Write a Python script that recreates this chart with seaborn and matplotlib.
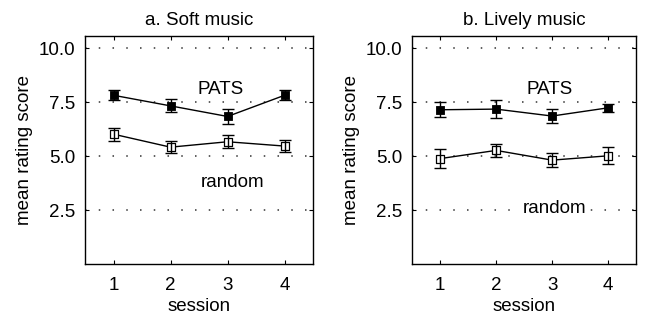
import matplotlib
matplotlib.use("Agg")
import matplotlib.pyplot as plt
import numpy as np
import pandas as pd
import seaborn as sns

sessions = [1, 2, 3, 4]

# a. Soft music
soft_pats = [7.82, 7.33, 6.84, 7.82]
soft_pats_err = [0.23, 0.30, 0.36, 0.23]
soft_random = [6.02, 5.42, 5.67, 5.47]
soft_random_err = [0.30, 0.27, 0.30, 0.27]

# b. Lively music
lively_pats = [7.15, 7.18, 6.86, 7.24]
lively_pats_err = [0.34, 0.42, 0.33, 0.18]
lively_random = [4.89, 5.27, 4.82, 5.02]
lively_random_err = [0.43, 0.30, 0.34, 0.40]

titles = ["a. Soft music", "b. Lively music"]
yticks = [2.5, 5.0, 7.5, 10.0]

sns.set_style("ticks")
plt.rcParams["font.family"] = ["Liberation Sans", "DejaVu Sans"]
plt.rcParams["text.color"] = "black"
plt.rcParams["axes.labelcolor"] = "black"
plt.rcParams["xtick.color"] = "black"
plt.rcParams["ytick.color"] = "black"

fig = plt.figure(figsize=(6.46, 3.2), dpi=100)
ax_a = fig.add_axes([0.1316, 0.174, 0.353, 0.714])
ax_b = fig.add_axes([0.6378, 0.174, 0.347, 0.714])

panels = [
    (ax_a, soft_pats, soft_pats_err, soft_random, soft_random_err,
     (2.87, 8.1), (3.08, 3.77)),
    (ax_b, lively_pats, lively_pats_err, lively_random, lively_random_err,
     (2.95, 8.1), (3.05, 2.6)),
]

for i, (ax, pats, pats_err, rnd, rnd_err, pats_pos, rnd_pos) in enumerate(panels):
    df = pd.DataFrame({
        "session": sessions * 2,
        "score": pats + rnd,
        "group": ["PATS"] * 4 + ["random"] * 4,
    })
    # dotted grid lines first so marks go on top
    for yv in yticks:
        ax.axhline(yv, color="#333333", linestyle=(0, (1, 8)), linewidth=1.1, zorder=0)

    sns.lineplot(data=df, x="session", y="score", units="group", estimator=None,
                 color="black", linewidth=1.0, ax=ax, legend=False, zorder=2)
    sns.scatterplot(x=sessions, y=pats, marker="s", s=36, color="black",
                    edgecolor="black", linewidth=0.6, ax=ax, zorder=4)
    sns.scatterplot(x=sessions, y=rnd, marker="s", s=26, color="white",
                    edgecolor="black", linewidth=0.9, ax=ax, zorder=3)
    # error bars over the open squares, as in the original
    ax.errorbar(sessions, pats, yerr=pats_err, fmt="none", ecolor="black",
                elinewidth=1.0, capsize=4.5, capthick=1.0, zorder=3.5)
    ax.errorbar(sessions, rnd, yerr=rnd_err, fmt="none", ecolor="black",
                elinewidth=1.0, capsize=4.5, capthick=1.0, zorder=3.5)

    ax.text(pats_pos[0], pats_pos[1], "PATS", ha="center", va="center",
            fontsize=13.5, zorder=5,
            bbox=dict(facecolor="white", edgecolor="none", pad=1))
    ax.text(rnd_pos[0], rnd_pos[1], "random", ha="center", va="center",
            fontsize=13.5, zorder=5,
            bbox=dict(facecolor="white", edgecolor="none", pad=1))

    ax.set_xlim(0.5, 4.5)
    ax.set_ylim(0, 10.57)
    ax.set_xticks(sessions)
    ax.set_yticks(yticks)
    ax.set_yticklabels([f"{v:.1f}" for v in yticks])
    ax.tick_params(direction="in", top=True, right=True, length=3,
                   labelsize=13.5, width=0.8, pad=7)
    ax.tick_params(axis="x", pad=9)
    for sp in ax.spines.values():
        sp.set_visible(True)
        sp.set_linewidth(1.0)
        sp.set_color("black")
    ax.set_xlabel("session", fontsize=13.5, labelpad=3)
    ax.set_ylabel("mean rating score", fontsize=13.5, labelpad=4)
    ax.set_title(titles[i], fontsize=13.5, pad=8)

fig.savefig("out.png", dpi=100)
